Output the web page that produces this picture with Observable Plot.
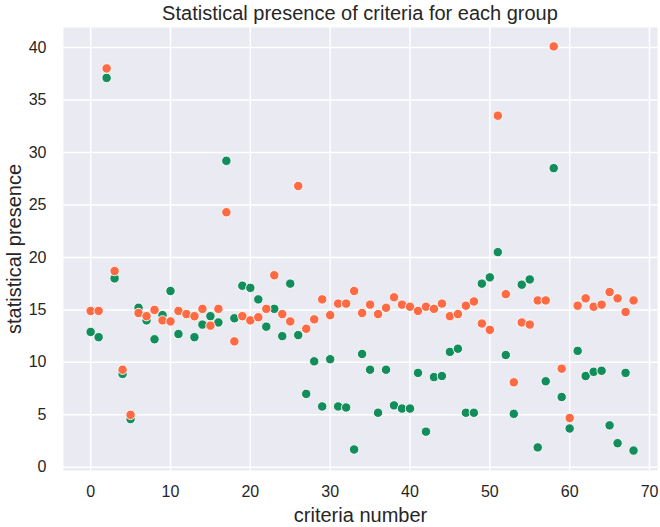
<!DOCTYPE html>
<html>
<head>
<meta charset="utf-8">
<script src="https://cdn.jsdelivr.net/npm/d3@7"></script>
<script src="https://cdn.jsdelivr.net/npm/@observablehq/plot@0.6"></script>
<style>
  html, body { margin: 0; padding: 0; background: #ffffff; }
  #wrap { width: 660px; font-family: "Liberation Sans", Arial, sans-serif; }
  #title { height: 26px; line-height: 26px; font-size: 20px; color: #262626; text-align: center; padding-left: 63px; padding-right: 3px; white-space: nowrap; }
  svg { display: block; }
</style>
</head>
<body>
<div id="wrap">
  <div id="title">Statistical presence of criteria for each group</div>
  <div id="chart"></div>
</div>
<script>
const criteria = [0,1,2,3,4,5,6,7,8,9,10,11,12,13,14,15,16,17,18,19,20,21,22,23,24,25,26,27,28,29,30,31,32,33,34,35,36,37,38,39,40,41,42,43,44,45,46,47,48,49,50,51,52,53,54,55,56,57,58,59,60,61,62,63,64,65,66,67,68];
const groupA = [12.9,12.4,37.1,18.0,8.9,4.6,15.2,14.0,12.2,14.5,
  16.8,12.7,14.6,12.4,13.6,14.4,13.8,29.2,14.2,17.3,
  17.1,16.0,13.4,15.1,12.5,17.5,12.6,7.0,10.1,5.8,
  10.3,5.8,5.7,1.7,10.8,9.3,5.2,9.3,5.9,5.6,
  5.6,9.0,3.4,8.6,8.7,11.0,11.3,5.2,5.2,17.5,
  18.1,20.5,10.7,5.1,17.4,17.9,1.9,8.2,28.5,6.7,
  3.7,11.1,8.7,9.1,9.2,4.0,2.3,9.0,1.6];
const groupB = [14.9,14.9,38.0,18.7,9.3,5.0,14.7,14.4,15.0,14.0,
  13.9,14.9,14.6,14.4,15.1,13.5,15.1,24.3,12.0,14.4,
  14.0,14.3,15.1,18.3,14.6,13.9,26.8,13.2,14.1,16.0,
  14.5,15.6,15.6,16.8,14.7,15.5,14.6,15.2,16.2,15.5,
  15.3,14.9,15.3,15.1,15.6,14.4,14.6,15.4,15.8,13.7,
  13.1,33.5,16.5,8.1,13.8,13.6,15.9,15.9,40.1,9.4,
  4.7,15.4,16.1,15.3,15.5,16.7,16.1,14.8,15.9];
const xTicks = [0,10,20,30,40,50,60,70];
const yTicks = [0,5,10,15,20,25,30,35,40];

const groups = ["group A", "group B"];
const colors = ["#138d5b", "#fd6a43"];

const rows = [];
groups.forEach((g, gi) => {
  const vals = gi === 0 ? groupA : groupB;
  criteria.forEach((c, i) => rows.push({criteria: c, value: vals[i], group: g}));
});

const chart = Plot.plot({
  width: 660,
  height: 501,
  marginLeft: 63,
  marginRight: 3,
  marginTop: 1,
  marginBottom: 57,
  style: {fontFamily: "Liberation Sans, Arial, sans-serif", background: "#ffffff", color: "#262626"},
  x: {domain: [-3.4, 71.0], ticks: xTicks},
  y: {domain: [-0.3, 41.9], ticks: yTicks},
  color: {type: "ordinal", domain: groups, range: colors},
  marks: [
    Plot.frame({fill: "#eaeaf2", stroke: null}),
    Plot.gridX(xTicks, {stroke: "#ffffff", strokeOpacity: 1, strokeWidth: 1.5}),
    Plot.gridY(yTicks, {stroke: "#ffffff", strokeOpacity: 1, strokeWidth: 1.5}),
    Plot.axisX(xTicks, {tickSize: 0, tickPadding: 15, fontSize: 16, fill: "#262626", label: "criteria number", labelAnchor: "center", labelArrow: "none", labelOffset: 51}),
    Plot.axisY(yTicks, {tickSize: 0, tickPadding: 17, fontSize: 16, fill: "#262626", label: "statistical presence", labelAnchor: "center", labelArrow: "none", labelOffset: 57}),
    Plot.dot(rows, {x: "criteria", y: "value", fill: "group", stroke: "#ffffff", strokeWidth: 0.9, r: 4.7})
  ]
});
chart.querySelectorAll('[aria-label="x-axis label"] text, [aria-label="y-axis label"] text').forEach(t => t.setAttribute("font-size", "20"));
document.getElementById("chart").appendChild(chart);
</script>
</body>
</html>
